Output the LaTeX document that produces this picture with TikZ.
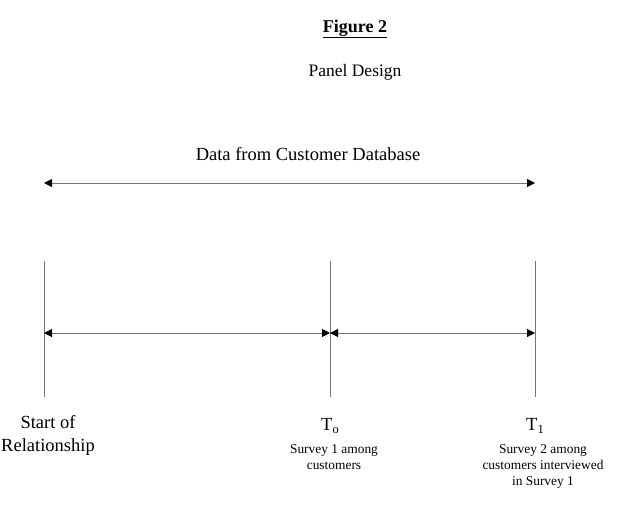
\documentclass[tikz,border=0pt]{standalone}
\usepackage{fontspec}
\setmainfont{Liberation Serif}
\usetikzlibrary{arrows.meta}
\begin{document}
\begin{tikzpicture}[x=1pt,y=-1pt,
  >={Triangle[length=8pt,width=8pt,color=black]},
  ln/.style={draw=black!55, line width=1pt},
  dbl/.style={ln, <->},
  big/.style={font=\fontsize{18.5}{23}\selectfont, inner sep=0pt, align=center},
  mid/.style={font=\fontsize{17.5}{20}\selectfont, inner sep=0pt, align=center},
  small/.style={font=\fontsize{13.4}{16}\selectfont, inner sep=0pt, align=center}]
\useasboundingbox (0,0) rectangle (620,515);
% titles
\node[mid, font=\fontsize{18}{20}\selectfont\bfseries] (fig) at (355,29) {\underline{Figure 2}};
\node[mid] (panel) at (355,72) {Panel Design};
\node[big] (data) at (308,154) {Data from Customer Database};
% coordinates
\coordinate (da) at (44,183);
\coordinate (db) at (535,183);
\coordinate (s0) at (44,261);  \coordinate (s1) at (44,397);
\coordinate (t0a) at (330,261); \coordinate (t0b) at (330,397);
\coordinate (t1a) at (535,261); \coordinate (t1b) at (535,397);
\coordinate (ms) at (44,333);
\coordinate (mt0) at (330,333);
\coordinate (mt1) at (535,333);
% lines
\draw[dbl] (da) -- (db);
\draw[ln] (s0) -- (s1);
\draw[ln] (t0a) -- (t0b);
\draw[ln] (t1a) -- (t1b);
\draw[dbl] (ms) -- (mt0);
\draw[dbl] (mt0) -- (mt1);
% labels
\node[big] (start) at (48,435) {Start of\\Relationship};
\node[big, anchor=base] (T0) at (330,430) {T\raisebox{-3.5pt}{\fontsize{12.5}{12}\selectfont o}};
\node[big, anchor=base] (T1) at (535,430) {T\raisebox{-3.5pt}{\fontsize{12.5}{12}\selectfont 1}};
\node[small, anchor=north] (s1t) at (334,444) {Survey 1 among\\customers};
\node[small, anchor=north] (s2t) at (543,444) {Survey 2 among\\customers interviewed\\in Survey 1};
\end{tikzpicture}
\end{document}
